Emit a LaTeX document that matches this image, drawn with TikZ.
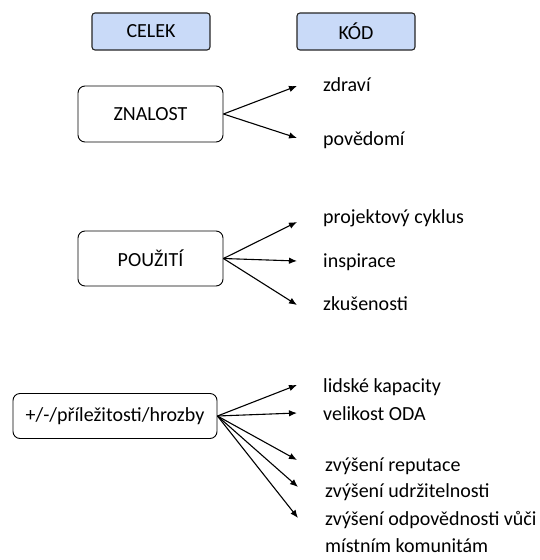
\documentclass[tikz,border=0pt]{standalone}
\usepackage{fontspec}
\setmainfont{Carlito}
\usetikzlibrary{arrows.meta}
\definecolor{headblue}{HTML}{C9DAF8}
\begin{document}
\begin{tikzpicture}[x=1pt,y=-1pt,
  every node/.style={font=\fontsize{20}{24}\selectfont},
  headbox/.style={draw=black!85, line width=1.1pt, rounded corners=3pt, fill=headblue,
    minimum width=118pt, minimum height=37pt, inner sep=0pt},
  catbox/.style={draw, line width=0.9pt, rounded corners=7pt, fill=white, inner sep=0pt},
  code/.style={anchor=west, inner sep=0pt, text height=0.72em, text depth=0.22em, yshift=-3pt},
  link/.style={line width=1.1pt, -{Latex[length=8pt,width=6.5pt]}}]

% page frame
\fill[white] (0,0) rectangle (539,560);
\useasboundingbox (0,0) rectangle (539,560);

% column headings
\node[headbox] (celek) at (151,31.5) {CELEK};
\node[headbox] (kod) at (356,31.5) {KÓD};

% categories
\node[catbox, minimum width=145pt, minimum height=56pt] (znalost) at (150.5,114) {ZNALOST};
\node[catbox, minimum width=145pt, minimum height=55pt] (pouziti) at (150.5,258.5) {POUŽITÍ};
\node[catbox, minimum width=204pt, minimum height=45pt] (swot) at (115,416) {+/-/příležitosti/hrozby};

% codes
\node[code] (zdravi) at (323,86) {zdraví};
\node[code] (povedomi) at (323,140) {povědomí};
\node[code] (cyklus) at (323,218) {projektový cyklus};
\node[code] (inspirace) at (323,262) {inspirace};
\node[code] (zkusenosti) at (323,305) {zkušenosti};
\node[code] (kapacity) at (323,387) {lidské kapacity};
\node[code] (oda) at (323,415) {velikost ODA};
\node[code] (reputace) at (325,466) {zvýšení reputace};
\node[code] (udrzitelnost) at (325,492) {zvýšení udržitelnosti};
\node[code] (odpovednost) at (325,520) {zvýšení odpovědnosti vůči};
\node[code] (komunity) at (325,547) {místním komunitám};

% arrow tips just left of the codes
\coordinate (t1) at (297,86);
\coordinate (t2) at (297,138);
\coordinate (t3) at (297,222);
\coordinate (t4) at (297,261);
\coordinate (t5) at (297,305);
\coordinate (t6) at (297,385);
\coordinate (t7) at (297,413);
\coordinate (t8) at (297,460);
\coordinate (t9) at (298,487);
\coordinate (t10) at (298,518);

% connectors
\draw[link] (znalost.east) -- (t1);
\draw[link] (znalost.east) -- (t2);
\draw[link] (pouziti.east) -- (t3);
\draw[link] (pouziti.east) -- (t4);
\draw[link] (pouziti.east) -- (t5);
\draw[link] (swot.east) -- (t6);
\draw[link] (swot.east) -- (t7);
\draw[link] (swot.east) -- (t8);
\draw[link] (swot.east) -- (t9);
\draw[link] (swot.east) -- (t10);
\end{tikzpicture}
\end{document}
